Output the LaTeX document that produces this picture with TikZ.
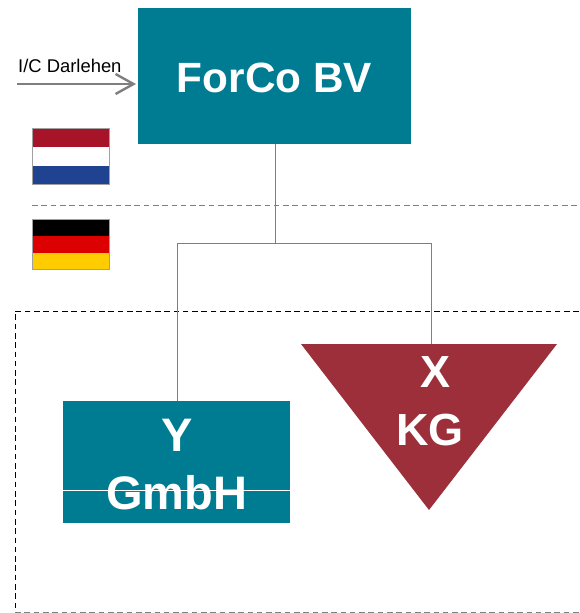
\documentclass[tikz,border=0pt]{standalone}
\usepackage{fontspec}
\setmainfont{Liberation Sans}
\usetikzlibrary{arrows.meta}
\definecolor{tealbox}{HTML}{007C92}
\definecolor{redtri}{HTML}{9C2F3A}
\definecolor{linegray}{HTML}{7F7F7F}
\definecolor{nlred}{HTML}{A81427}
\definecolor{nlblue}{HTML}{1F4390}
\definecolor{dered}{HTML}{DD0000}
\definecolor{deyellow}{HTML}{FFCC00}
\definecolor{flagedge}{HTML}{A0A0A0}
\tikzset{
  box/.style={fill=tealbox,inner sep=0pt,outer sep=0pt},
  wlabel/.style={text=white,inner sep=0pt,anchor=base,font=\bfseries\fontsize{#1}{#1}\selectfont},
  conn/.style={draw=linegray,line width=0.9pt},
  region/.style={line width=0.9pt,dash pattern=on 5.6pt off 3.7pt},
  flagedge/.style={draw=flagedge,line width=1.3pt},
}
\begin{document}
\begin{tikzpicture}[x=1pt,y=-1pt]
\useasboundingbox (0,0) rectangle (579,613);
% regions
\draw[region,draw=linegray] (32,205) -- (579,205);
\draw[region,draw=black] (579,311) -- (15,311) -- (15,612.5);
\draw[region,draw=linegray] (15,612.5) -- (579,612.5);
% boxes
\node[box,minimum width=273pt,minimum height=136pt] (forco) at (274.5,76) {};
\node[box,minimum width=227pt,minimum height=122pt] (ygmbh) at (176.5,462) {};
\fill[redtri] (301,344) -- (557,344) -- (429,510) -- cycle;
\coordinate (xkg) at (431,344);
\coordinate (junction) at (275,243);
\coordinate (jl) at (177,243);
\coordinate (jr) at (431,243);
% connectors
\draw[conn] (forco.south -| junction) -- (junction);
\draw[conn] (ygmbh.north -| jl) -- (jl) -- (jr) -- (xkg);
\draw[white,line width=1pt] (ygmbh.west |- 0,490.5) -- (ygmbh.east |- 0,490.5);
% labels
\node[wlabel=42.3] (forcotext) at (274.5,92.5) {ForCo BV};
\node[wlabel=47] (ytext) at (177,451.5) {Y};
\node[wlabel=47] (gmbhtext) at (176.5,509) {GmbH};
\node[wlabel=45] (xtext) at (436,387) {X};
\node[wlabel=45] (kgtext) at (430,445.5) {KG};
% loan arrow
\coordinate (loanstart) at (17,84);
\draw[linegray,line width=2.4pt,shorten >=2pt,-{Straight Barb[length=18pt,width=20pt,line width=2.4pt]}] (loanstart) -- (forco.west |- loanstart);
\node[inner sep=0pt,anchor=base west,font=\fontsize{18.4}{18.4}\selectfont] (loan) at (18,72) {I/C Darlehen};
% Dutch flag
\fill[nlred] (32,128) rectangle (110,147);
\fill[white] (32,147) rectangle (110,166);
\fill[nlblue] (32,166) rectangle (110,185);
\draw[flagedge] (32.5,128.5) rectangle (109.5,184.5);
% German flag
\fill[black] (32,219) rectangle (110,236);
\fill[dered] (32,236) rectangle (110,253);
\fill[deyellow] (32,253) rectangle (110,270);
\draw[flagedge] (32.5,219.5) rectangle (109.5,269.5);
\end{tikzpicture}
\end{document}
